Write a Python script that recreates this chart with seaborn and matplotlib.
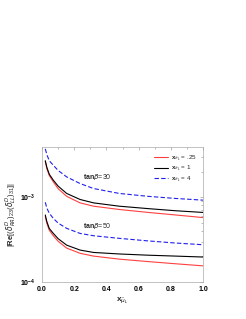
import numpy as np
import pandas as pd
import matplotlib
matplotlib.use("Agg")
import matplotlib.pyplot as plt
import seaborn as sns
from matplotlib.ticker import LogLocator, NullFormatter, FixedLocator

x = [0.02, 0.03, 0.045, 0.07, 0.10, 0.153, 0.236, 0.32, 0.48, 0.66, 0.83, 1.00]
# values in units of 1e-3
red30 = [2.630, 2.163, 1.799, 1.514, 1.259, 1.023, 0.857, 0.783, 0.716, 0.661, 0.617, 0.575]
black30 = [2.692, 2.239, 1.862, 1.585, 1.349, 1.107, 0.940, 0.857, 0.783, 0.733, 0.692, 0.661]
blue30 = [3.715, 3.162, 2.692, 2.377, 2.065, 1.734, 1.449, 1.265, 1.107, 1.023, 0.966, 0.923]
red50 = [0.589, 0.490, 0.407, 0.351, 0.302, 0.251, 0.218, 0.202, 0.186, 0.174, 0.164, 0.155]
black50 = [0.617, 0.513, 0.427, 0.374, 0.324, 0.272, 0.238, 0.223, 0.214, 0.207, 0.202, 0.197]
blue50 = [0.871, 0.741, 0.646, 0.562, 0.495, 0.429, 0.374, 0.351, 0.327, 0.305, 0.288, 0.275]

legend_labels = [r"$\mathbf{x}_{\tilde{e}_L}$ = .25", r"$\mathbf{x}_{\tilde{e}_L}$ = 1", r"$\mathbf{x}_{\tilde{e}_L}$ = 4"]
colors = ["#ff4040", "#000000", "#2020ee"]
xticks = [0.0, 0.2, 0.4, 0.6, 0.8, 1.0]
xticklabels = ["0.0", "0.2", "0.4", "0.6", "0.8", "1.0"]

rows = []
for lab, s30, s50 in zip(legend_labels, [red30, black30, blue30], [red50, black50, blue50]):
    for xi, v in zip(x, s30):
        rows.append(dict(x=xi, y=v * 1e-3, series=lab, group="30"))
    for xi, v in zip(x, s50):
        rows.append(dict(x=xi, y=v * 1e-3, series=lab, group="50"))
df = pd.DataFrame(rows)

sns.set_theme(style="white")
plt.rcParams["font.family"] = ["Liberation Sans", "DejaVu Sans"]
plt.rcParams["mathtext.fontset"] = "custom"
plt.rcParams["mathtext.rm"] = "Liberation Sans"
plt.rcParams["mathtext.bf"] = "Liberation Sans:bold"

fig = plt.figure(figsize=(2.46, 3.19), dpi=100)
ax = fig.add_axes([0.171, 0.116, 0.654, 0.423])

sns.lineplot(data=df, x="x", y="y", hue="series", style="series", units="group",
             estimator=None, palette=colors, hue_order=legend_labels, style_order=legend_labels,
             dashes=[(None, None), (None, None), (4, 2)], linewidth=0.8, ax=ax, legend=True)

ax.set_yscale("log")
ax.set_xlim(0, 1.0)
ax.set_ylim(1e-4, 3.9e-3)
ax.set_xticks(xticks)
ax.set_xticklabels(xticklabels, fontsize=5, fontweight="bold")
ax.xaxis.set_minor_locator(FixedLocator([0.1, 0.3, 0.5, 0.7, 0.9]))
ax.yaxis.set_major_locator(LogLocator(base=10, numticks=10))
ax.yaxis.set_minor_locator(LogLocator(base=10, subs=np.arange(2, 10), numticks=20))
ax.yaxis.set_minor_formatter(NullFormatter())
for t in ax.get_yticklabels():
    t.set_fontsize(5)
    t.set_fontweight("bold")
ax.tick_params(which="both", direction="in", top=True, right=True, length=2, width=0.4,
               colors="#888888", labelcolor="black")
ax.tick_params(axis="x", which="both", pad=3)
ax.tick_params(axis="y", which="both", pad=5)
ax.tick_params(which="minor", length=1.2)
for sp in ax.spines.values():
    sp.set_linewidth(0.5)
    sp.set_color("#aaaaaa")

ax.set_xlabel(r"$\mathbf{x}_{\tilde{\mu}_L}$", fontsize=6, labelpad=2)
ax.set_ylabel(r"$|\mathbf{Re}[(\delta^{D}_{RR})_{23}(\delta^{D}_{LL})_{31}]|$", fontsize=5.5, labelpad=1)

ax.text(0.255, 1.72e-3, r"$\mathbf{tan}\beta$=30", fontsize=5, va="center", ha="left")
ax.text(0.255, 4.6e-4, r"$\mathbf{tan}\beta$=50", fontsize=5, va="center", ha="left")

leg = ax.legend(loc="upper right", frameon=False, fontsize=4.5, handlelength=2.2,
                labelspacing=0.15, borderaxespad=0.6, handletextpad=0.5)

fig.savefig("out.png", dpi=100)
